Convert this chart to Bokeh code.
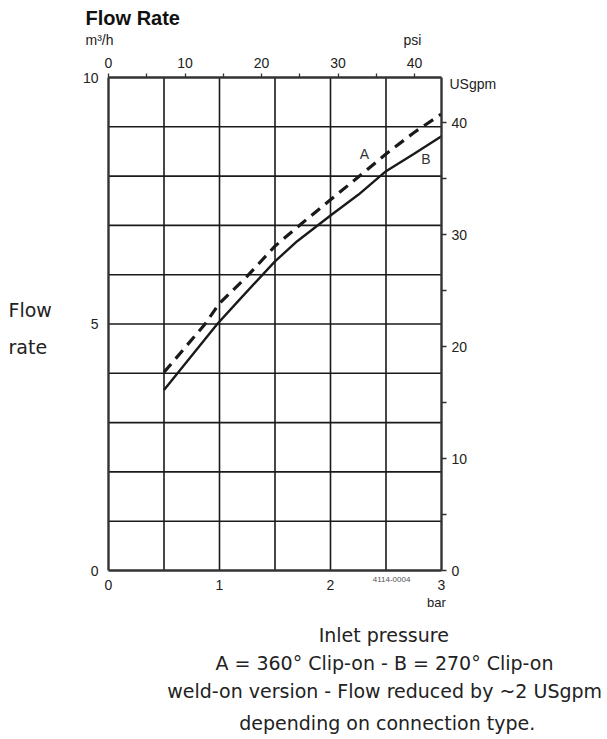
from bokeh.plotting import figure
from bokeh.models import Range1d, LinearAxis, FixedTicker, Label, ColumnDataSource
from bokeh.embed import file_html
from bokeh.resources import INLINE

# ---------------- data ----------------
bar_A = [0.5, 0.87, 1.0, 1.25, 1.5, 1.73, 2.0, 2.25, 2.5, 2.75, 3.0]
flow_A = [4.02, 5.0, 5.42, 5.97, 6.58, 7.02, 7.52, 7.98, 8.45, 8.88, 9.26]
bar_B = [0.5, 0.98, 1.17, 1.5, 1.7, 2.0, 2.25, 2.5, 2.75, 3.0]
flow_B = [3.66, 5.0, 5.47, 6.27, 6.68, 7.2, 7.62, 8.1, 8.45, 8.81]

bar_ticks = [0, 1, 2, 3]
m3h_ticks = [0, 5, 10]
psi_ticks = [0, 10, 20, 30, 40]
psi_minor = [5, 15, 25, 35]
gpm_ticks = [0, 10, 20, 30, 40]
gpm_minor = [5, 15, 25, 35]
bar_grid = [0.5, 1.0, 1.5, 2.0, 2.5]
m3h_grid = [1, 2, 3, 4, 5, 6, 7, 8, 9]

PSI_PER_BAR = 14.5038
GPM_PER_M3H = 4.40287
BAR_MAX = 3
M3H_MAX = 10

title_text = "Flow Rate"
caption_lines = [
    "Inlet pressure",
    "A = 360° Clip-on - B = 270° Clip-on",
    "weld-on version - Flow reduced by ~2 USgpm",
    "depending on connection type.",
]

# ---------------- layout (pixels) ----------------
W, H = 607, 739
CH_LEFT, CH_RIGHT, CH_TOP, CH_BOTTOM = 108, 441, 77, 570
ppx = (CH_RIGHT - CH_LEFT) / BAR_MAX
ppy = (CH_BOTTOM - CH_TOP) / M3H_MAX
X0 = -CH_LEFT / ppx
X1 = X0 + W / ppx
Y0 = -(H - CH_BOTTOM) / ppy
Y1 = Y0 + H / ppy

INK = "#1a1a1a"
TXT = "#222222"
SANS = "Liberation Sans"
WIDE = "DejaVu Sans"

p = figure(width=W, height=H, min_border=0,
           x_range=Range1d(X0, X1), y_range=Range1d(Y0, Y1),
           output_backend="svg", toolbar_location=None)
p.title.visible = False
p.background_fill_color = "white"
p.border_fill_color = "white"
p.outline_line_color = None
p.xgrid.visible = False
p.ygrid.visible = False

p.extra_x_ranges = {"psi": Range1d(X0 * PSI_PER_BAR, X1 * PSI_PER_BAR)}
p.extra_y_ranges = {"gpm": Range1d(Y0 * GPM_PER_M3H, Y1 * GPM_PER_M3H)}

# grid lines drawn from the grid arrays
p.segment(x0=bar_grid, x1=bar_grid, y0=[0] * len(bar_grid), y1=[M3H_MAX] * len(bar_grid),
          line_color=INK, line_width=1.6)
p.segment(x0=[0] * len(m3h_grid), x1=[BAR_MAX] * len(m3h_grid), y0=m3h_grid, y1=m3h_grid,
          line_color=INK, line_width=1.6)


def style(ax, tick_out, standoff):
    ax.axis_line_color = "#333333"
    ax.axis_line_width = 2.4
    ax.major_tick_in = 0
    ax.minor_tick_in = 0
    ax.major_tick_out = tick_out
    ax.minor_tick_out = tick_out
    ax.major_tick_line_color = "#333333" if tick_out else None
    ax.minor_tick_line_color = "#333333" if tick_out else None
    ax.major_tick_line_width = 1.3
    ax.minor_tick_line_width = 1.3
    ax.major_label_standoff = standoff
    ax.major_label_text_font = SANS
    ax.major_label_text_font_size = "14px"
    ax.major_label_text_color = TXT


xb = p.xaxis[0]
xb.ticker = FixedTicker(ticks=bar_ticks)
xb.fixed_location = 0
xb.bounds = (0, BAR_MAX)
style(xb, 0, 9)

yl = p.yaxis[0]
yl.ticker = FixedTicker(ticks=m3h_ticks)
yl.fixed_location = 0
yl.bounds = (0, M3H_MAX)
style(yl, 0, 10)

top = LinearAxis(x_range_name="psi", fixed_location=M3H_MAX,
                 bounds=(0, BAR_MAX * PSI_PER_BAR),
                 ticker=FixedTicker(ticks=psi_ticks, minor_ticks=psi_minor))
style(top, 4, 6)
p.add_layout(top, "above")

right = LinearAxis(y_range_name="gpm", fixed_location=BAR_MAX,
                   bounds=(0, M3H_MAX * GPM_PER_M3H),
                   ticker=FixedTicker(ticks=gpm_ticks, minor_ticks=gpm_minor))
style(right, 5, 5)
p.add_layout(right, "right")

srcA = ColumnDataSource(dict(x=bar_A, y=flow_A))
srcB = ColumnDataSource(dict(x=bar_B, y=flow_B))
p.line("x", "y", source=srcA, line_color=INK, line_width=3.2, line_dash="11 7")
p.line("x", "y", source=srcB, line_color=INK, line_width=2.4)


def lab(x, y, text, font=SANS, size="14px", align="left", color=TXT, style_="normal"):
    p.add_layout(Label(x=x, y=y, text=text, text_font=font, text_font_size=size,
                       text_align=align, text_baseline="middle",
                       text_color=color, text_font_style=style_))


lab(-0.207, 11.217, title_text, size="20px", color="#111111", style_="bold")
lab(-0.207, 10.757, "m³/h")
lab(2.658, 10.763, "psi")
lab(3.072, 9.872, "USgpm")
lab(-0.901, 5.274, "Flow", font=WIDE, size="19px")
lab(-0.901, 4.535, "rate", font=WIDE, size="19px")
lab(2.55, -0.183, "4114-0004", size="8px", align="center", color="#555555")
lab(2.955, -0.657, "bar", size="13px", align="center")
lab(2.306, 8.452, "A", size="14px", align="center", color="#333333")
lab(2.86, 8.337, "B", size="14px", align="center", color="#333333")

cap_y = [-1.318, -1.872, -2.450, -3.103]
cap_x = [2.48, 2.486, 2.488, 2.511]
for cx, cy, t in zip(cap_x, cap_y, caption_lines):
    lab(cx, cy, t, font=WIDE, size="19px", align="center")

open("out.html", "w").write(file_html(p, INLINE))
